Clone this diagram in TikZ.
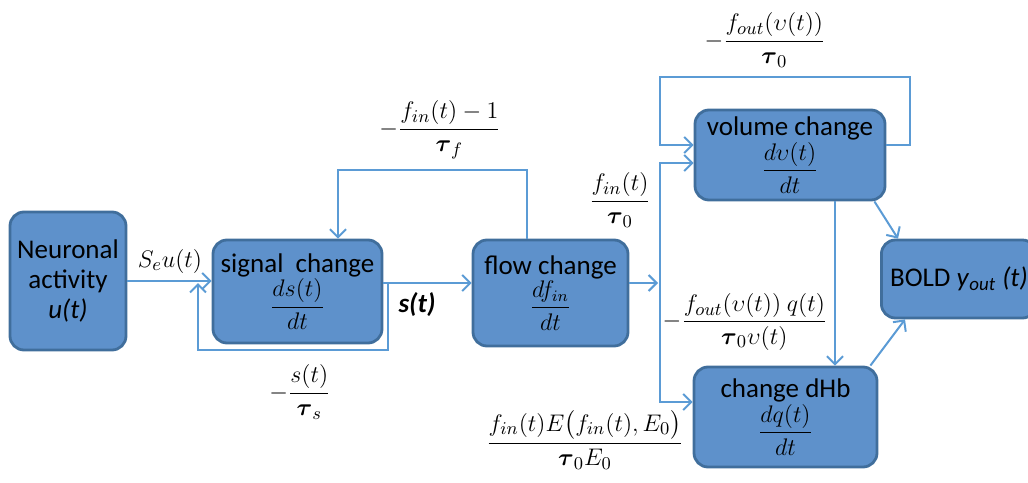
\documentclass[tikz,border=0pt]{standalone}
\usepackage{amsmath}
\usepackage{fontspec}
\setmainfont{Carlito}
\usetikzlibrary{arrows.meta}
\definecolor{boxfill}{RGB}{94,145,203}
\definecolor{boxline}{RGB}{64,110,156}
\definecolor{wire}{RGB}{91,155,213}
\newcommand{\rate}[2]{{\fontsize{12}{14}\selectfont$\dfrac{#1}{#2}$}}
\tikzset{
  blockbox/.style={draw=boxline, fill=boxfill, line width=1.4pt, rounded corners=7pt,
    align=center, inner sep=0pt, font=\fontsize{13.5}{15}\selectfont},
  wirearrow/.style={draw=wire, line width=1pt, -{Straight Barb[length=4pt,width=8pt]}},
  eqlabel/.style={font=\fontsize{12.5}{15}\selectfont},
}

\begin{document}
\begin{tikzpicture}[x=0.5pt,y=-0.5pt]
                \useasboundingbox (0,0) rectangle (1028,482);
                \node [blockbox, minimum width=58pt, minimum height=69pt] (neuron) at (68,281) {Neuronal\\activity\\\textit{u(t)}};
                \node [blockbox, minimum width=84.5pt, minimum height=51.5pt] (signal) at (297.5,291.5) {signal\ \ change\\\rate{ds(t)}{dt}};
                \node [blockbox, minimum width=77.5pt, minimum height=53pt] (flow) at (550.5,293) {flow change\\\rate{df_{in}}{dt}};
                \node [blockbox, minimum width=95pt, minimum height=45pt] (volume) at (790,155) {volume change\\\rate{d\upsilon(t)}{dt}};
                \node [blockbox, minimum width=91.5pt, minimum height=50pt] (dhb) at (785.5,417) {change dHb\\\rate{dq(t)}{dt}};
                \node [blockbox, minimum width=77.5pt, minimum height=39pt, anchor=west] (bold) at (880,279) {BOLD \textit{y}\textsubscript{\textit{out}} \textit{(t)}};

                \draw [wirearrow] (neuron.east) -- (signal.west |- neuron.east);
                \node [eqlabel] (inlabel) at (170,261) {$S_e u(t)$};
                \draw [wirearrow] (signal.east |- 0,283) -- (flow.west |- 0,283);
                \draw [wirearrow] (388,283) |- (198,350) -- (198,283);
                \node [eqlabel, font=\fontsize{13.5}{15}\selectfont] (slabel) at (417,305) {\textbf{\textit{s(t)}}};
                \node [eqlabel] (sfeed) at (300,392) {$-\dfrac{s(t)}{\boldsymbol{\tau}_s}$};
                \draw [wirearrow] (flow.north -| 527,0) |- (338,170) -- (signal.north -| 338,0);
                \node [eqlabel] (ffeed) at (440,130) {$-\dfrac{f_{in}(t)-1}{\boldsymbol{\tau}_f}$};

                \draw [wirearrow] (flow.east |- 0,283) -- (658,283);
                \draw [wirearrow] (660,283) |- (volume.west |- 0,163);
                \draw [wirearrow] (660,283) |- (dhb.west |- 0,402);
                \node [eqlabel] (vin) at (620,200) {$\dfrac{f_{in}(t)}{\boldsymbol{\tau}_0}$};
                \node [eqlabel] (qin) at (585,440) {$\dfrac{f_{in}(t)E\bigl(f_{in}(t),E_0\bigr)}{\boldsymbol{\tau}_0 E_0}$};

                \draw [wirearrow] (volume.east |- 0,145) -| (910,77) -| (660,145) -- (volume.west |- 0,145);
                \node [eqlabel] (vfeed) at (765,40) {$-\dfrac{f_{out}(\upsilon(t))}{\boldsymbol{\tau}_0}$};
                \draw [wirearrow] (volume.south -| 835,0) -- (dhb.north -| 835,0);
                \node [eqlabel] (qout) at (745,322) {$-\dfrac{f_{out}(\upsilon(t))\ q(t)}{\boldsymbol{\tau}_0\upsilon(t)}$};

                \draw [wirearrow] ([xshift=-6pt]volume.south east) -- ([xshift=9pt]bold.north west);
                \draw [wirearrow] ([xshift=-4pt]dhb.north east) -- ([xshift=12.5pt]bold.south west);
\end{tikzpicture}
\end{document}
